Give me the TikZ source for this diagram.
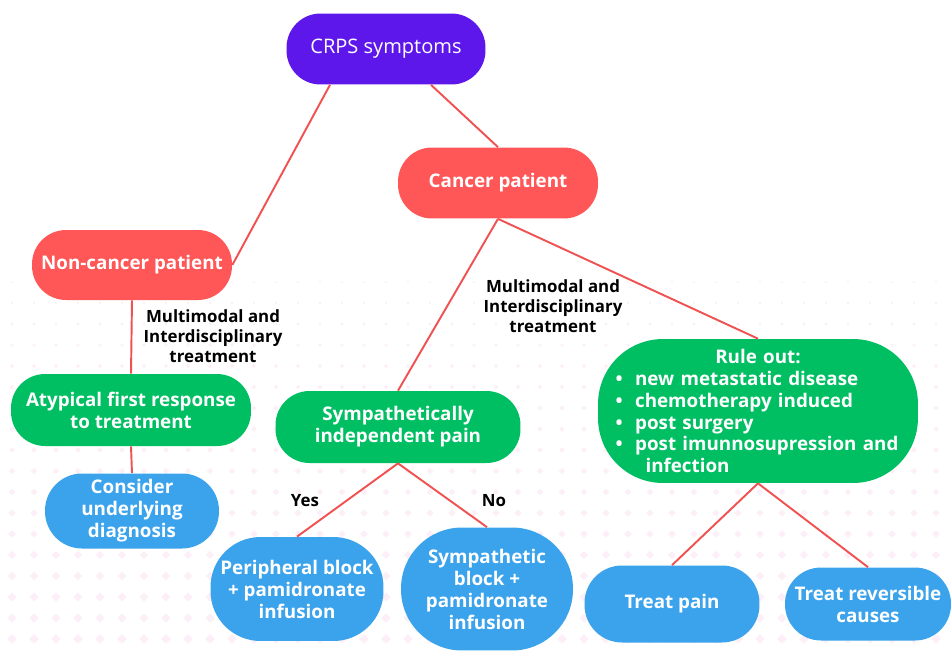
\documentclass[tikz,border=0pt]{standalone}
\usepackage{fontspec}
\setmainfont{Open Sans}
\usepackage{xcolor}
\usetikzlibrary{positioning, calc}
\definecolor{crpspurple}{HTML}{5E17EB}
\definecolor{patientred}{HTML}{FF5757}
\definecolor{stepgreen}{HTML}{00BF63}
\definecolor{careblue}{HTML}{3BA3EC}
\definecolor{linkred}{HTML}{F05252}
\definecolor{dotpink}{HTML}{FCEFF7}

\begin{document}
\begin{tikzpicture}[x=0.02cm, y=-0.02cm,
    box/.style={rounded corners=0.68cm, text=white, align=center, inner sep=0pt,
      font=\bfseries\fontsize{10.7}{12.5}\selectfont},
    link/.style={draw=linkred, line width=1.1pt},
    note/.style={align=center, font=\bfseries\fontsize{9.6}{11.3}\selectfont}]
  \useasboundingbox (0,0) rectangle (951,650);

  % faint dotted backdrop
  \foreach \y in {282,303,...,650}
    \foreach \x in {12,34,...,950} {
      \pgfmathsetmacro{\r}{1.2+(\y-282)/95}
      \fill[dotpink] (\x,\y-\r) -- (\x+\r,\y) -- (\x,\y+\r) -- (\x-\r,\y) -- cycle;
    }

  % Top level
  \node[box, fill=crpspurple, minimum width=3.98cm, minimum height=1.42cm,
    font=\fontsize{11.4}{12.5}\selectfont] (crps) at (386,49) {CRPS symptoms};

  % Patient groups
  \node[box, fill=patientred, minimum width=4cm, minimum height=1.42cm] (cancer) at (498,183) {Cancer patient};
  \node[box, fill=patientred, minimum width=4cm, minimum height=1.4cm] (noncancer) at (132,265) {Non-cancer patient};

  % Non-cancer branch
  \node[box, fill=stepgreen, minimum width=4.8cm, minimum height=1.44cm] (atypical) at (131,410) {Atypical first response\\to treatment};
  \node[box, fill=careblue, minimum width=3.48cm, minimum height=1.5cm, rounded corners=0.74cm] (consider) at (132,511) {Consider\\underlying\\diagnosis};

  % Cancer branch
  \node[box, fill=stepgreen, minimum width=4.9cm, minimum height=1.44cm] (sympind) at (398,427) {Sympathetically\\independent pain};
  \node[box, fill=stepgreen, minimum width=6.4cm, minimum height=2.88cm, rounded corners=1.3cm,
    align=left, text width=5.7cm] (ruleout) at (758,411)
    {\makebox[5.7cm]{Rule out:}\\
     \textbullet\ \ new metastatic disease\\
     \textbullet\ \ chemotherapy induced\\
     \textbullet\ \ post surgery\\
     \textbullet\ \ post imunnosupression and\\
     \hspace*{0.6cm}infection};

  \node[box, fill=careblue, minimum width=3.46cm, minimum height=2.08cm, rounded corners=1cm] (periph) at (297,589) {Peripheral block\\+ pamidronate\\infusion};
  \node[box, fill=careblue, minimum width=3.44cm, minimum height=2.46cm, rounded corners=1.22cm] (sympblock) at (487,589) {Sympathetic\\block +\\pamidronate\\infusion};
  \node[box, fill=careblue, minimum width=3.5cm, minimum height=1.54cm, rounded corners=0.75cm] (treatpain) at (672,604) {Treat pain};
  \node[box, fill=careblue, minimum width=3.32cm, minimum height=1.46cm, rounded corners=0.72cm] (treatrev) at (868,604) {Treat reversible\\causes};

  % Labels
  \node[note] (multinc) at (213,336) {Multimodal and\\Interdisciplinary\\treatment};
  \node[note] (multic) at (553,306) {Multimodal and\\Interdisciplinary\\treatment};
  \node[note] (yes) at (305,501) {Yes};
  \node[note] (no) at (494,501) {No};

  % Connectors
  \draw[link] ([xshift=-1.12cm]crps.south) -- (noncancer.east);
  \draw[link] ([xshift=0.9cm]crps.south) -- (cancer.north);
  \draw[link] (noncancer.south) -- (atypical.north);
  \draw[link] (atypical.south) -- (consider.north);
  \draw[link] (cancer.south) -- (sympind.north);
  \draw[link] (cancer.south) -- (ruleout.north);
  \draw[link] (sympind.south) -- (periph.north);
  \draw[link] (sympind.south) -- (sympblock.north);
  \draw[link] (ruleout.south) -- (treatpain.north);
  \draw[link] (ruleout.south) -- (treatrev.north);
\end{tikzpicture}
\end{document}
